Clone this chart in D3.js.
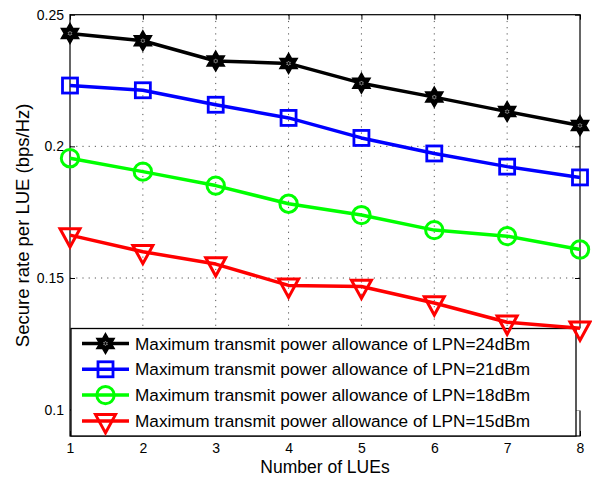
<!DOCTYPE html>
<html>
<head>
<meta charset="utf-8">
<script src="https://cdn.jsdelivr.net/npm/d3@7"></script>
<style>
  html, body { margin: 0; padding: 0; background: #fff; }
  svg { display: block; font-family: "Liberation Sans", Arial, sans-serif; }
</style>
</head>
<body>
<svg id="chart" width="592" height="477"></svg>
<script>
// ---- data ----
const xValues = [1, 2, 3, 4, 5, 6, 7, 8];
const p24 = [0.2429, 0.2401, 0.2324, 0.2315, 0.2240, 0.2187, 0.2132, 0.2079];
const p21 = [0.2231, 0.2213, 0.2158, 0.2108, 0.2032, 0.1973, 0.1923, 0.1882];
const p18 = [0.1955, 0.1904, 0.1851, 0.1782, 0.1739, 0.1682, 0.1659, 0.1608];
const p15 = [0.1663, 0.1600, 0.1553, 0.1472, 0.1468, 0.1405, 0.1332, 0.1309];
const seriesNames = [
  "Maximum transmit power allowance of LPN=24dBm",
  "Maximum transmit power allowance of LPN=21dBm",
  "Maximum transmit power allowance of LPN=18dBm",
  "Maximum transmit power allowance of LPN=15dBm"
];
const xTicks = [1, 2, 3, 4, 5, 6, 7, 8];
const yTicks = [0.1, 0.15, 0.2, 0.25];
const xLabel = "Number of LUEs";
const yLabel = "Secure rate per LUE (bps/Hz)";

// ---- layout ----
const L = 70, R = 580, T = 14.7, B = 436;
const svg = d3.select("#chart");
const x = d3.scaleLinear().domain([1, 8]).range([L, R]);
const y = d3.scaleLinear().domain([0.09, 0.25]).range([B, T]);

const series = [
  { name: seriesNames[0], values: p24, color: "#000000", marker: "hex" },
  { name: seriesNames[1], values: p21, color: "#0000ff", marker: "square" },
  { name: seriesNames[2], values: p18, color: "#00ff00", marker: "circle" },
  { name: seriesNames[3], values: p15, color: "#ff0000", marker: "tri" }
];

// grid
const grid = svg.append("g").attr("stroke", "#555").attr("stroke-width", 1)
  .attr("stroke-dasharray", "1.2,5");
xTicks.filter(d => d > 1 && d < 8).forEach(d => {
  grid.append("line").attr("x1", x(d)).attr("x2", x(d)).attr("y1", T).attr("y2", B);
});
yTicks.filter(d => d < 0.25).forEach(d => {
  grid.append("line").attr("x1", L).attr("x2", R).attr("y1", y(d)).attr("y2", y(d));
});

// axes via d3 axis (inward ticks)
const fmt = d => String(+d.toFixed(2));
const axB = svg.append("g").attr("transform", `translate(0,${B})`)
  .call(d3.axisBottom(x).tickValues(xTicks).tickSize(-5).tickPadding(7).tickFormat(d3.format("d")));
const axT = svg.append("g").attr("transform", `translate(0,${T})`)
  .call(d3.axisTop(x).tickValues(xTicks).tickSize(-5).tickFormat(""));
const axL = svg.append("g").attr("transform", `translate(${L},0)`)
  .call(d3.axisLeft(y).tickValues(yTicks).tickSize(-5).tickPadding(4).tickFormat(fmt));
const axR = svg.append("g").attr("transform", `translate(${R},0)`)
  .call(d3.axisRight(y).tickValues(yTicks).tickSize(-5).tickFormat(""));
[axB, axT, axL, axR].forEach(a => {
  a.select(".domain").remove();
  a.selectAll(".tick line").attr("stroke", "#000").attr("stroke-width", 1);
  a.selectAll("text").attr("font-family", "Liberation Sans, Arial, sans-serif")
    .attr("font-size", 14).attr("fill", "#000");
});
axL.selectAll("text").attr("dx", "-2");
// box
svg.append("rect").attr("x", L).attr("y", T).attr("width", R - L).attr("height", B - T)
  .attr("fill", "none").attr("stroke", "#000").attr("stroke-width", 1.2);

// axis labels
svg.append("text").attr("x", (L + R) / 2).attr("y", 473).attr("text-anchor", "middle")
  .attr("font-size", 17.5).text(xLabel);
svg.append("text").attr("transform", `translate(28.5,${(T + B) / 2}) rotate(-90)`)
  .attr("text-anchor", "middle").attr("font-size", 18.5).text(yLabel);

// marker drawing
function hexPath(R0) {
  const r0 = R0 / Math.sqrt(3);
  const pts = [];
  for (let i = 0; i < 12; i++) {
    const a = -Math.PI / 2 + i * Math.PI / 6;
    const rr = i % 2 === 0 ? R0 : r0;
    pts.push([rr * Math.cos(a), rr * Math.sin(a)]);
  }
  return "M" + pts.map(p => p.join(",")).join("L") + "Z";
}
function drawMarker(g, type, cx, cy, color) {
  if (type === "hex") {
    g.append("path").attr("d", hexPath(10)).attr("transform", `translate(${cx},${cy})`)
      .attr("fill", color).attr("stroke", color).attr("stroke-width", 1.5).attr("stroke-linejoin", "miter");
    g.append("path").attr("d", hexPath(2.2)).attr("transform", `translate(${cx},${cy})`)
      .attr("fill", "none").attr("stroke", "#bbb").attr("stroke-width", 0.6);
  } else if (type === "square") {
    g.append("rect").attr("x", cx - 7.5).attr("y", cy - 7.5).attr("width", 15).attr("height", 15)
      .attr("fill", "none").attr("stroke", color).attr("stroke-width", 2.8);
  } else if (type === "circle") {
    g.append("circle").attr("cx", cx).attr("cy", cy).attr("r", 8.7)
      .attr("fill", "none").attr("stroke", color).attr("stroke-width", 3);
  } else if (type === "tri") {
    const p = [[-10, -6.3], [10, -6.3], [0, 12]];
    g.append("path").attr("d", "M" + p.map(q => [cx + q[0], cy + q[1]].join(",")).join("L") + "Z")
      .attr("fill", "none").attr("stroke", color).attr("stroke-width", 3).attr("stroke-linejoin", "miter");
  }
}

// legend
const legX = 71, legY = 328.5, legW = 505, legH = 107.5;
const leg = svg.append("g");
leg.append("rect").attr("x", legX).attr("y", 328.5).attr("width", 511).attr("height", 82)
  .attr("fill", "#fff");
leg.append("rect").attr("x", legX).attr("y", legY).attr("width", legW).attr("height", legH)
  .attr("fill", "#fff").attr("stroke", "#000").attr("stroke-width", 1.3);
series.forEach((s, i) => {
  const ry = 343.5 + i * 25.8;
  leg.append("line").attr("x1", 82).attr("x2", 129).attr("y1", ry).attr("y2", ry)
    .attr("stroke", s.color).attr("stroke-width", 3.5);
  drawMarker(leg, s.marker, 105.5, ry, s.color);
  leg.append("text").attr("x", 135).attr("y", ry).attr("dy", "0.36em")
    .attr("font-size", 17.2).attr("fill", "#000").text(s.name);
});

// series
const line = d3.line().x((d, i) => x(xValues[i])).y(d => y(d));
series.forEach(s => {
  const g = svg.append("g");
  g.append("path").datum(s.values).attr("d", line).attr("fill", "none")
    .attr("stroke", s.color).attr("stroke-width", 3.5).attr("stroke-linejoin", "round");
  s.values.forEach((v, i) => drawMarker(g, s.marker, x(xValues[i]), y(v), s.color));
});
</script>
</body>
</html>
